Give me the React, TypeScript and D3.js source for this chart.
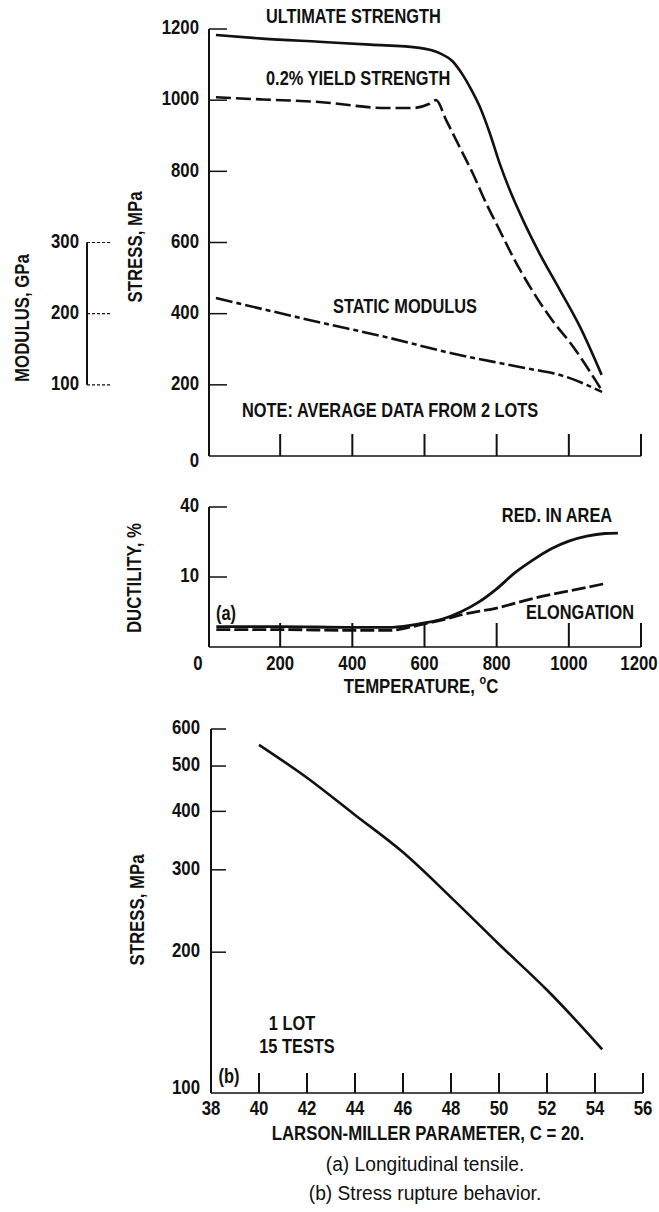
import React from 'react';
import * as d3 from 'd3';

// ---- (a) longitudinal tensile ----
const tempTicks = [200, 400, 600, 800, 1000, 1200];
const tempLabels = ['200', '400', '600', '800', '1000', '1200'];
const stressTicks = [0, 200, 400, 600, 800, 1000, 1200];
const modulusTicks = [100, 200, 300];
const ductilityTicks = [10, 40];

const ultimateTemp = [22, 150, 308, 450, 586, 642, 679, 706, 730, 753, 781, 808, 836, 873, 919, 975, 1031, 1091];
const ultimateStress = [1183, 1173, 1164, 1156, 1147, 1132, 1108, 1071, 1029, 982, 907, 823, 748, 663, 569, 467, 363, 228];

const yieldTemp = [22, 150, 308, 494, 567, 614, 632, 660, 697, 734, 771, 808, 845, 892, 947, 1012, 1091];
const yieldStress = [1008, 1002, 995, 978, 978, 990, 1000, 944, 869, 794, 710, 635, 560, 476, 391, 307, 185];

const modulusTemp = [22, 308, 494, 678, 864, 994, 1092];
const modulusGPa = [222, 188, 167, 144, 125, 111, 90];

const redAreaTemp = [23, 200, 400, 500, 560, 600, 650, 700, 750, 800, 850, 900, 950, 1000, 1050, 1100, 1136];
const redAreaPct = [0.85, 0.85, 0.78, 0.78, 0.95, 1.18, 1.6, 2.5, 4.1, 6.9, 11.2, 15.4, 19.6, 22.9, 25.1, 26.3, 26.5];

const elongTemp = [23, 200, 400, 500, 560, 600, 650, 700, 800, 900, 1000, 1095];
const elongPct = [0.62, 0.62, 0.56, 0.56, 0.8, 1.1, 1.49, 2.09, 3.1, 4.8, 6.4, 8.1];

// ---- (b) stress rupture ----
const lmTicks = [38, 40, 42, 44, 46, 48, 50, 52, 54, 56];
const ruptureTicks = [100, 200, 300, 400, 500, 600];
const lmParam = [40, 42, 44, 46, 48, 50, 52, 54, 54.3];
const ruptureStress = [555, 472, 393, 327, 262, 208, 166, 129, 124];

const W = 659;
const H = 1212;
const font = "'Liberation Sans', Arial, sans-serif";
const ink = '#111';

const xT = d3.scaleLinear().domain([0, 1200]).range([208, 641]);
const yS = d3.scaleLinear().domain([0, 1200]).range([456, 29]);
const yM = d3.scaleLinear().domain([100, 300]).range([yS(200), yS(600)]);
const yD = d3.scaleSqrt().domain([0, 40]).range([647, 507]);
const xL = d3.scaleLinear().domain([38, 56]).range([211, 643]);
const yL = d3.scaleLog().domain([100, 600]).range([1093, 729]);

const zip = (a: number[], b: number[]) => a.map((v, i) => [v, b[i]] as [number, number]);

const mkLine = (fx: (v: number) => number, fy: (v: number) => number) =>
  d3.line<[number, number]>()
    .x((d) => fx(d[0]))
    .y((d) => fy(d[1]))
    .curve(d3.curveMonotoneX);

// condensed lettering like the old report labels
type TxtProps = {
  x: number;
  y: number;
  anchor?: 'start' | 'middle' | 'end';
  rotate?: number;
  size?: number;
  weight?: number;
  sx?: number;
  children: React.ReactNode;
};
const Txt = ({ x, y, anchor = 'start', rotate = 0, size = 20, weight = 700, sx = 0.84, children }: TxtProps) => (
  <g transform={`translate(${x},${y}) rotate(${rotate}) scale(${sx},1)`}>
    <text textAnchor={anchor} dominantBaseline="middle" fontFamily={font} fontSize={size} fontWeight={weight} fill={ink}>
      {children}
    </text>
  </g>
);

const App = () => {
  const axisX = 209;
  const tsLine = mkLine(xT, yS);
  const modLine = mkLine(xT, yM);
  const ductLine = mkLine(xT, yD);
  const lmLine = mkLine(xL, yL);

  return (
    <svg width={W} height={H} style={{ position: 'absolute', left: 0, top: 0, background: '#fff' }}>
      {/* ===== top: stress vs temperature ===== */}
      <g stroke={ink} fill="none">
        <line x1={axisX} x2={axisX} y1={yS(1200)} y2={yS(0)} strokeWidth={2} />
        <line x1={axisX} x2={xT(1200)} y1={yS(0)} y2={yS(0)} strokeWidth={1.6} />
        {stressTicks.slice(1).map((t) => (
          <line key={t} x1={axisX} x2={axisX + 18} y1={yS(t)} y2={yS(t)} strokeWidth={1.5} />
        ))}
        {tempTicks.map((t) => (
          <line key={t} x1={xT(t)} x2={xT(t)} y1={yS(0)} y2={yS(0) - 22} strokeWidth={2} />
        ))}
      </g>
      {stressTicks.map((t) => (
        <Txt key={t} x={199} y={yS(t) + (t === 0 ? 6 : 0)} anchor="end">{t}</Txt>
      ))}

      {/* modulus axis */}
      <g stroke={ink} fill="none">
        <line x1={87} x2={87} y1={yM(300)} y2={yM(100)} strokeWidth={2} />
        {modulusTicks.map((t) => (
          <line key={t} x1={87} x2={112} y1={yM(t)} y2={yM(t)} strokeWidth={1.2} strokeDasharray="3,2" />
        ))}
      </g>
      {modulusTicks.map((t) => (
        <Txt key={t} x={79} y={yM(t)} anchor="end">{t}</Txt>
      ))}
      <Txt x={24} y={318} rotate={-90} anchor="middle">MODULUS, GPa</Txt>
      <Txt x={137} y={247} rotate={-90} anchor="middle">STRESS, MPa</Txt>

      <g fill="none" stroke={ink} strokeWidth={2.6}>
        <path d={tsLine(zip(ultimateTemp, ultimateStress)) ?? ''} />
        <path d={tsLine(zip(yieldTemp, yieldStress)) ?? ''} strokeDasharray="15,5" />
        <path d={modLine(zip(modulusTemp, modulusGPa)) ?? ''} strokeDasharray="17,4,5,4" />
      </g>
      <Txt x={266} y={18} size={19.5}>ULTIMATE STRENGTH</Txt>
      <Txt x={266} y={80} size={19.5}>0.2% YIELD STRENGTH</Txt>
      <Txt x={333} y={308} size={19.5}>STATIC MODULUS</Txt>
      <Txt x={242} y={412} size={19.5}>NOTE: AVERAGE DATA FROM 2 LOTS</Txt>

      {/* ===== middle: ductility ===== */}
      <g stroke={ink} fill="none">
        <line x1={axisX} x2={axisX} y1={yD(40)} y2={yD(0)} strokeWidth={2} />
        <line x1={axisX} x2={xT(1200)} y1={yD(0)} y2={yD(0)} strokeWidth={1.6} />
        {ductilityTicks.map((t) => (
          <line key={t} x1={axisX} x2={axisX + 18} y1={yD(t)} y2={yD(t)} strokeWidth={1.5} />
        ))}
        {tempTicks.map((t) => (
          <line key={t} x1={xT(t)} x2={xT(t)} y1={yD(0)} y2={yD(0) - 24} strokeWidth={2} />
        ))}
      </g>
      {ductilityTicks.map((t) => (
        <Txt key={t} x={199} y={yD(t)} anchor="end">{t}</Txt>
      ))}
      <Txt x={198} y={665} anchor="middle">0</Txt>
      {tempTicks.map((t, i) => (
        <Txt key={t} x={t === 1200 ? xT(t) - 2 : xT(t)} y={665} anchor="middle">{tempLabels[i]}</Txt>
      ))}
      <Txt x={421} y={688} anchor="middle">
        TEMPERATURE, <tspan dy={-7} fontSize={13}>o</tspan><tspan dy={7}>C</tspan>
      </Txt>
      <Txt x={136} y={578} rotate={-90} anchor="middle">DUCTILITY, %</Txt>
      <g fill="none" stroke={ink} strokeWidth={2.8}>
        <path d={ductLine(zip(elongTemp, elongPct)) ?? ''} strokeDasharray="14,4" />
        <path d={ductLine(zip(redAreaTemp, redAreaPct)) ?? ''} />
      </g>
      <Txt x={557} y={517} anchor="middle" size={19.5}>RED. IN AREA</Txt>
      <Txt x={580} y={614} anchor="middle" size={19.5}>ELONGATION</Txt>
      <Txt x={226} y={615} anchor="middle" size={19.5}>(a)</Txt>

      {/* ===== bottom: stress rupture ===== */}
      <g stroke={ink} fill="none">
        <line x1={xL(38)} x2={xL(38)} y1={yL(600)} y2={yL(100)} strokeWidth={2} />
        <line x1={xL(38)} x2={xL(56)} y1={yL(100)} y2={yL(100)} strokeWidth={1.6} />
        {ruptureTicks.slice(1).map((t) => (
          <line key={t} x1={xL(38)} x2={xL(38) + 15} y1={yL(t)} y2={yL(t)} strokeWidth={1.5} />
        ))}
        {lmTicks.slice(1).map((t) => (
          <line key={t} x1={xL(t)} x2={xL(t)} y1={yL(100)} y2={yL(100) - 20} strokeWidth={2} />
        ))}
      </g>
      {ruptureTicks.map((t) => (
        <Txt key={t} x={200} y={yL(t) - (t === 100 ? 4 : 0)} anchor="end">{t}</Txt>
      ))}
      {lmTicks.map((t) => (
        <Txt key={t} x={xL(t)} y={1110} anchor="middle">{t}</Txt>
      ))}
      <path d={lmLine(zip(lmParam, ruptureStress)) ?? ''} fill="none" stroke={ink} strokeWidth={2.6} />
      <Txt x={139} y={910} rotate={-90} anchor="middle">STRESS, MPa</Txt>
      <Txt x={292} y={1025} anchor="middle" size={19.5}>1 LOT</Txt>
      <Txt x={297} y={1048} anchor="middle" size={19.5}>15 TESTS</Txt>
      <Txt x={229} y={1078} anchor="middle" size={19.5}>(b)</Txt>
      <Txt x={428} y={1135} anchor="middle">LARSON-MILLER PARAMETER, C = 20.</Txt>
      <Txt x={425} y={1166} anchor="middle" size={20} weight={400} sx={0.96}>(a) Longitudinal tensile.</Txt>
      <Txt x={425} y={1195} anchor="middle" size={20} weight={400} sx={0.96}>(b) Stress rupture behavior.</Txt>
    </svg>
  );
};

export default App;
